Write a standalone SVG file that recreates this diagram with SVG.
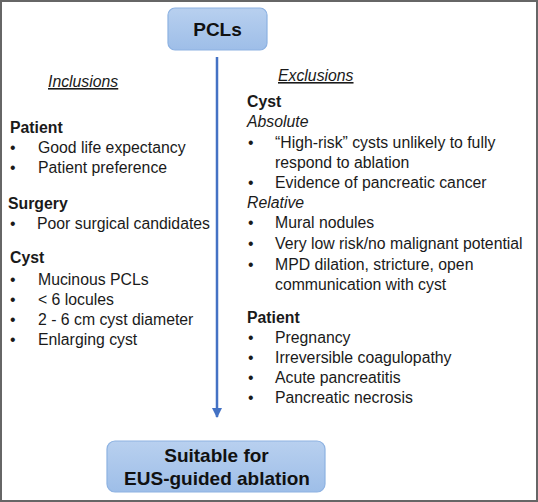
<svg xmlns="http://www.w3.org/2000/svg" width="538" height="502" viewBox="0 0 538 502">
<defs>
<linearGradient id="bg" x1="0" y1="0" x2="0" y2="1">
<stop offset="0" stop-color="#b8d0ef"/>
<stop offset="1" stop-color="#9ebee8"/>
</linearGradient>
<marker id="ah" markerWidth="10" markerHeight="10" refX="9" refY="5" orient="auto" markerUnits="userSpaceOnUse">
<path d="M0,0 L10,5 L0,10 Z" fill="#4472c4"/>
</marker>
</defs>
<style>
.box{fill:url(#bg);stroke:#8db2e2;stroke-width:1.2}
.bt{font-family:"Liberation Sans",Arial,sans-serif;font-weight:bold;fill:#111;text-anchor:middle;font-size:19px}
.t{font-family:"Liberation Sans",Arial,sans-serif;font-size:15.8px;fill:#1a1a1a}
.h{font-weight:bold}
.i{font-style:italic}
.u{text-decoration:underline}
</style>
<rect x="1" y="1" width="536" height="500" fill="#fff" stroke="#666" stroke-width="2"/>
<g id="connectors">
<line x1="217" y1="57" x2="217" y2="417" stroke="#4472c4" stroke-width="2.5" marker-end="url(#ah)"/>
</g>
<g id="pcls">
<rect class="box" x="168" y="8" width="99" height="42" rx="7"/>
<text class="bt" x="217.5" y="36">PCLs</text>
</g>
<g id="suitable">
<rect class="box" x="107" y="441" width="218" height="51" rx="8"/>
<text class="bt" x="216.5" y="462">Suitable for</text>
<text class="bt" x="217" y="485">EUS-guided ablation</text>
</g>
<g id="inclusions">
<text class="t i u" x="48" y="87" font-size="18.5">Inclusions</text>
<text class="t h" x="10" y="133">Patient</text>
<text class="t" x="10" y="153">•</text><text class="t" x="38" y="153">Good life expectancy</text>
<text class="t" x="10" y="173">•</text><text class="t" x="38" y="173">Patient preference</text>
<text class="t h" x="8" y="209">Surgery</text>
<text class="t" x="10" y="229">•</text><text class="t" x="37" y="229">Poor surgical candidates</text>
<text class="t h" x="10" y="263">Cyst</text>
<text class="t" x="10" y="285">•</text><text class="t" x="38" y="285">Mucinous PCLs</text>
<text class="t" x="10" y="305">•</text><text class="t" x="38" y="305">&lt; 6 locules</text>
<text class="t" x="10" y="325">•</text><text class="t" x="38" y="325">2 - 6 cm cyst diameter</text>
<text class="t" x="10" y="345">•</text><text class="t" x="38" y="345">Enlarging cyst</text>
</g>
<g id="exclusions">
<text class="t i u" x="278" y="81" font-size="18.5">Exclusions</text>
<text class="t h" x="247" y="107">Cyst</text>
<text class="t i" x="247" y="127">Absolute</text>
<text class="t" x="248" y="148">•</text><text class="t" x="275" y="148">“High-risk” cysts unlikely to fully</text>
<text class="t" x="275" y="168">respond to ablation</text>
<text class="t" x="248" y="188">•</text><text class="t" x="275" y="188">Evidence of pancreatic cancer</text>
<text class="t i" x="247" y="208">Relative</text>
<text class="t" x="248" y="228">•</text><text class="t" x="275" y="228">Mural nodules</text>
<text class="t" x="248" y="249">•</text><text class="t" x="275" y="249">Very low risk/no malignant potential</text>
<text class="t" x="248" y="270">•</text><text class="t" x="275" y="270">MPD dilation, stricture, open</text>
<text class="t" x="275" y="290">communication with cyst</text>
<text class="t h" x="247" y="323">Patient</text>
<text class="t" x="248" y="343">•</text><text class="t" x="275" y="343">Pregnancy</text>
<text class="t" x="248" y="363">•</text><text class="t" x="275" y="363">Irreversible coagulopathy</text>
<text class="t" x="248" y="383">•</text><text class="t" x="275" y="383">Acute pancreatitis</text>
<text class="t" x="248" y="403">•</text><text class="t" x="275" y="403">Pancreatic necrosis</text>
</g>
</svg>
